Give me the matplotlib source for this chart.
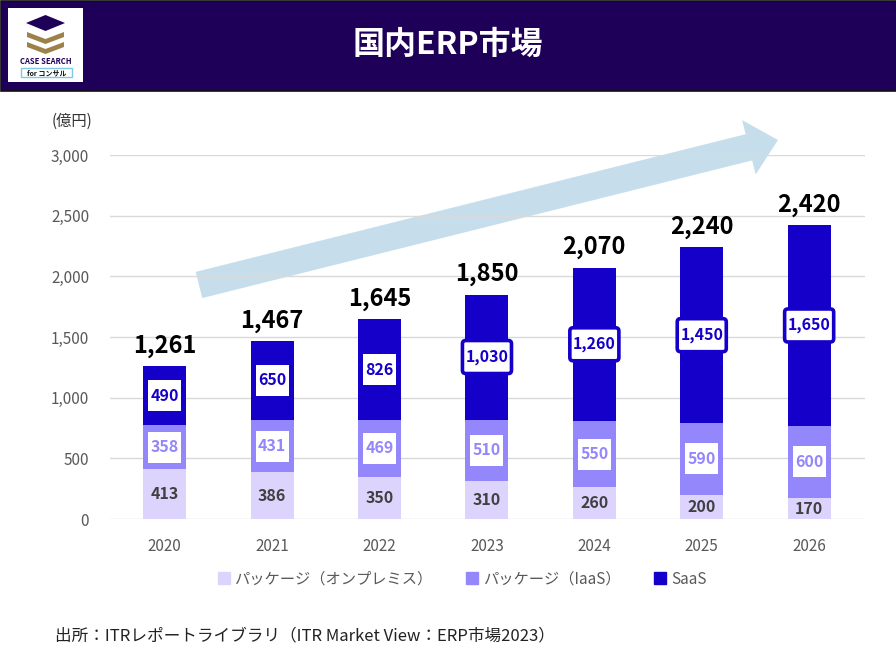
###################
# 国内ERP市場 chart #
###################
import numpy as np
import matplotlib.pyplot as plt
from matplotlib.patches import Rectangle, Polygon, FancyArrow, FancyBboxPatch
from matplotlib.lines import Line2D

plt.rcParams['font.family'] = ['Noto Sans CJK JP', 'DejaVu Sans']

# data (億円)
years = ['2020', '2021', '2022', '2023', '2024', '2025', '2026']
onprem = [413, 386, 350, 310, 260, 200, 170]
iaas = [358, 431, 469, 510, 550, 590, 600]
saas = [490, 650, 826, 1030, 1260, 1450, 1650]
totals = [1261, 1467, 1645, 1850, 2070, 2240, 2420]
series_names = ['パッケージ（オンプレミス）', 'パッケージ（IaaS）', 'SaaS']

c_onprem = '#ddd4fd'
c_iaas = '#9486fb'
c_saas = '#1400c8'
navy = '#1e0059'

fig = plt.figure(figsize=(8.96, 6.72), dpi=100)

# overlay axes in pixel coords for header / arrow / notes
bg = fig.add_axes([0, 0, 1, 1], zorder=0)
bg.set_xlim(0, 896)
bg.set_ylim(672, 0)
bg.axis('off')

# header band
bg.add_patch(Rectangle((0.5, 0.5), 895, 90, facecolor=navy, edgecolor='#111111', lw=1.2))
bg.text(448, 45, '国内ERP市場', color='white', fontsize=23, fontweight='bold',
        ha='center', va='center')

# logo
bg.add_patch(Rectangle((8, 8), 75, 74, facecolor='white', edgecolor='none'))
bg.add_patch(Polygon([(26, 23), (45.5, 15), (65, 23), (45.5, 31)], facecolor=navy))
gold = '#9c8248'
for off in [0, 10]:
    bg.add_patch(Polygon([(27, 32 + off), (45.5, 39 + off), (64, 32 + off),
                          (64, 37 + off), (45.5, 44 + off), (27, 37 + off)],
                         facecolor=gold))
bg.text(45.5, 62, 'CASE SEARCH', color=navy, fontsize=5.5, fontweight='bold',
        ha='center', va='center')
bg.add_patch(Rectangle((21, 68), 51, 9, facecolor='white', edgecolor='#7fc8e8', lw=1))
bg.text(46.5, 72.5, 'for コンサル', color='#111111', fontsize=5, fontweight='bold',
        ha='center', va='center')

# trend arrow
bg.add_patch(FancyArrow(199, 285, 579, -145, width=27, head_width=56, head_length=30,
                        length_includes_head=True, facecolor='#c6deeb', edgecolor='none'))

# unit label
bg.text(72, 121, '(億円)', fontsize=11, color='#333333', ha='center', va='center')

# source note
bg.text(55, 636, '出所：ITRレポートライブラリ（ITR Market View：ERP市場2023）',
        fontsize=12, color='#222222', ha='left', va='center')

######################
# Stacked bar chart  #
######################
ax = fig.add_axes([110 / 896, 1 - 519 / 672, 755 / 896, 364 / 672], zorder=1)
ax.patch.set_alpha(0)
x = np.arange(len(years))
w = 0.4
b1 = np.array(onprem)
b2 = b1 + np.array(iaas)
ax.bar(x, onprem, w, color=c_onprem, zorder=2)
ax.bar(x, iaas, w, bottom=b1, color=c_iaas, zorder=2)
ax.bar(x, saas, w, bottom=b2, color=c_saas, zorder=2)

ax.set_xlim(-0.51, 6.52)
ax.set_ylim(0, 3000)
ax.set_yticks(np.arange(0, 3001, 500))
ax.set_yticklabels([f'{v:,}' for v in range(0, 3001, 500)])
ax.set_xticks(x)
ax.set_xticklabels(years)
ax.tick_params(axis='y', length=0, pad=15, labelsize=11, labelcolor='#595959')
ax.tick_params(axis='x', length=0, pad=14, labelsize=11, labelcolor='#595959')
ax.grid(axis='y', color='#d9d9d9', lw=1, zorder=0)
for s in ax.spines.values():
    s.set_visible(False)

# label box sizes (data units: x per category, y in 億円)
px_x = 1 / 107.3
px_y = 3000 / 364
aspect = px_y / px_x


def label_box(xc, yc, wpx, hpx, edge=None):
    bw, bh = wpx * px_x, hpx * px_y
    if edge is None:
        p = FancyBboxPatch((xc - bw / 2, yc - bh / 2), bw, bh, boxstyle='square,pad=0',
                           fc='white', ec='none', zorder=3)
    else:
        p = FancyBboxPatch((xc - bw / 2, yc - bh / 2), bw, bh,
                           boxstyle='round,pad=0,rounding_size=0.03', mutation_aspect=aspect,
                           fc='white', ec=edge, lw=2.6, zorder=3)
    ax.add_patch(p)


for i in range(len(years)):
    # on-premise values
    ax.text(x[i], onprem[i] / 2, f'{onprem[i]:,}', ha='center', va='center',
            fontsize=11.5, fontweight='bold', color='#404040', zorder=4)
    # IaaS values
    yc = b1[i] + iaas[i] / 2
    label_box(x[i], yc, 33, 31)
    ax.text(x[i], yc, f'{iaas[i]:,}', ha='center', va='center',
            fontsize=11.5, fontweight='bold', color=c_iaas, zorder=4)
    # SaaS values
    yc = b2[i] + saas[i] / 2
    if i < 3:
        label_box(x[i], yc, 33, 31)
    else:
        label_box(x[i], yc, 49, 33, edge=c_saas)
    ax.text(x[i], yc, f'{saas[i]:,}', ha='center', va='center',
            fontsize=11.5, fontweight='bold', color=c_saas, zorder=4)
    # totals
    ax.text(x[i], totals[i] + 70, f'{totals[i]:,}', ha='center', va='bottom',
            fontsize=17, fontweight='bold', color='black', zorder=4)

handles = [Line2D([], [], marker='s', ls='none', markersize=9, color=c)
           for c in [c_onprem, c_iaas, c_saas]]
fig.legend(handles, series_names, loc='center', bbox_to_anchor=(462 / 896, 1 - 579 / 672),
           ncol=3, frameon=False, fontsize=11, labelcolor='#595959',
           handlelength=0.8, handletextpad=0.3, columnspacing=2.2)

plt.savefig('out.png', dpi=100)
